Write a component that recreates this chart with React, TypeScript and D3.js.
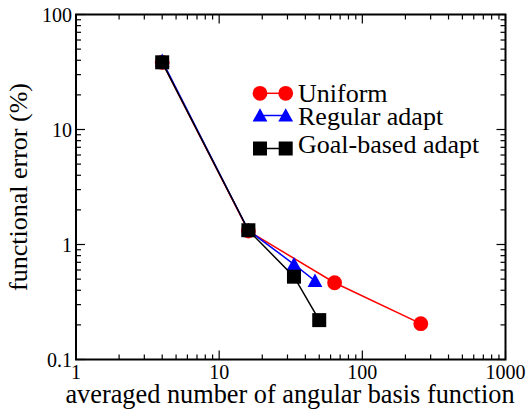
import React from "react";
import * as d3 from "d3";

const uniformX = [4, 16, 64, 256];
const uniformY = [38.4, 1.31, 0.465, 0.205];
const regularX = [4, 16, 33.3, 46.7];
const regularY = [39.5, 1.33, 0.673, 0.482];
const goalX = [4, 16, 33.3, 50];
const goalY = [38.4, 1.33, 0.525, 0.22];
const xTickValues = [1, 10, 100, 1000];
const xTickLabels = ["1", "10", "100", "1000"];
const yTickValues = [0.1, 1, 10, 100];
const yTickLabels = ["0.1", "1", "10", "100"];
const seriesNames = ["Uniform", "Regular adapt", "Goal-based adapt"];

const W = 528, H = 410;
const L = 76, R = 505.5, T = 14.5, B = 359.5;
const FONT = "Liberation Serif, DejaVu Serif, serif";

export default function App() {
  const x = d3.scaleLog().domain([1, 1000]).range([L, R]);
  const y = d3.scaleLog().domain([0.1, 100]).range([B, T]);

  const minorX: number[] = [];
  for (const d of [1, 10, 100]) for (let m = 2; m <= 9; m++) minorX.push(d * m);
  const minorY: number[] = [];
  for (const d of [0.1, 1, 10]) for (let m = 2; m <= 9; m++) minorY.push(d * m);

  const major = 9, minor = 5;
  const line = d3.line<[number, number]>().x((d) => x(d[0])).y((d) => y(d[1]));

  const series = [
    { xs: uniformX, ys: uniformY, color: "#ff0000", shape: "circle" },
    { xs: regularX, ys: regularY, color: "#0000ff", shape: "triangle" },
    { xs: goalX, ys: goalY, color: "#000000", shape: "square" },
  ];

  const marker = (shape: string, cx: number, cy: number, color: string, key: any) => {
    if (shape === "circle") return <circle key={key} cx={cx} cy={cy} r={7.4} fill={color} />;
    if (shape === "square") return <rect key={key} x={cx - 7} y={cy - 7} width={14} height={14} fill={color} />;
    const w = 7.4, h = 13.4;
    return (
      <path key={key} d={`M${cx},${cy - h * 0.55}L${cx + w},${cy + h * 0.45}L${cx - w},${cy + h * 0.45}Z`} fill={color} />
    );
  };

  const legendRows = [
    { my: 93.3, ty: 101.5 },
    { my: 115.5, ty: 124.8 },
    { my: 148.5, ty: 152.5 },
  ];

  const textStyle = { fontFamily: FONT };

  return (
    <svg width={W} height={H} style={{ position: "absolute", left: 0, top: 0, background: "#fff" }}>
      <rect x={0} y={0} width={W} height={H} fill="#fff" />
      {/* ticks */}
      <g stroke="#000" strokeWidth={1.2}>
        {xTickValues.map((v, i) => (
          <g key={"xm" + i}>
            <line x1={x(v)} x2={x(v)} y1={B} y2={B - major} />
            <line x1={x(v)} x2={x(v)} y1={T} y2={T + major} />
          </g>
        ))}
        {minorX.map((v, i) => (
          <g key={"xn" + i}>
            <line x1={x(v)} x2={x(v)} y1={B} y2={B - minor} />
            <line x1={x(v)} x2={x(v)} y1={T} y2={T + minor} />
          </g>
        ))}
        {yTickValues.map((v, i) => (
          <g key={"ym" + i}>
            <line x1={L} x2={L + major} y1={y(v)} y2={y(v)} />
            <line x1={R} x2={R - major} y1={y(v)} y2={y(v)} />
          </g>
        ))}
        {minorY.map((v, i) => (
          <g key={"yn" + i}>
            <line x1={L} x2={L + minor} y1={y(v)} y2={y(v)} />
            <line x1={R} x2={R - minor} y1={y(v)} y2={y(v)} />
          </g>
        ))}
      </g>
      <rect x={L} y={T} width={R - L} height={B - T} fill="none" stroke="#000" strokeWidth={2} />

      {/* tick labels */}
      <g style={textStyle} fontSize={20} fill="#000">
        {xTickValues.map((v, i) => (
          <text key={"xl" + i} x={x(v)} y={378.5} textAnchor="middle" style={textStyle}>{xTickLabels[i]}</text>
        ))}
        {yTickValues.map((v, i) => (
          <text key={"yl" + i} x={72} y={y(v) + 7} textAnchor="end" style={textStyle}>{yTickLabels[i]}</text>
        ))}
      </g>

      {/* axis titles */}
      <text x={290} y={403} textAnchor="middle" style={textStyle} fontSize={26.3} fill="#000">
        averaged number of angular basis function
      </text>
      <text transform="translate(27,187) rotate(-90)" textAnchor="middle" style={textStyle} fontSize={26} fill="#000">
        functional error (%)
      </text>

      {/* series */}
      {series.map((s, si) => {
        const pts = s.xs.map((v, i) => [v, s.ys[i]] as [number, number]);
        return (
          <g key={"s" + si}>
            <path d={line(pts) || ""} fill="none" stroke={s.color} strokeWidth={1.5} />
            {pts.map((p, i) => marker(s.shape, x(p[0]), y(p[1]), s.color, i))}
          </g>
        );
      })}

      {/* legend */}
      {series.map((s, i) => (
        <g key={"lg" + i}>
          <line x1={260} x2={285.7} y1={legendRows[i].my} y2={legendRows[i].my} stroke={s.color} strokeWidth={1.5} />
          {marker(s.shape, 260, legendRows[i].my, s.color, "a")}
          {marker(s.shape, 285.7, legendRows[i].my, s.color, "b")}
          <text x={298} y={legendRows[i].ty} style={textStyle} fontSize={26} fill="#000">{seriesNames[i]}</text>
        </g>
      ))}
    </svg>
  );
}
